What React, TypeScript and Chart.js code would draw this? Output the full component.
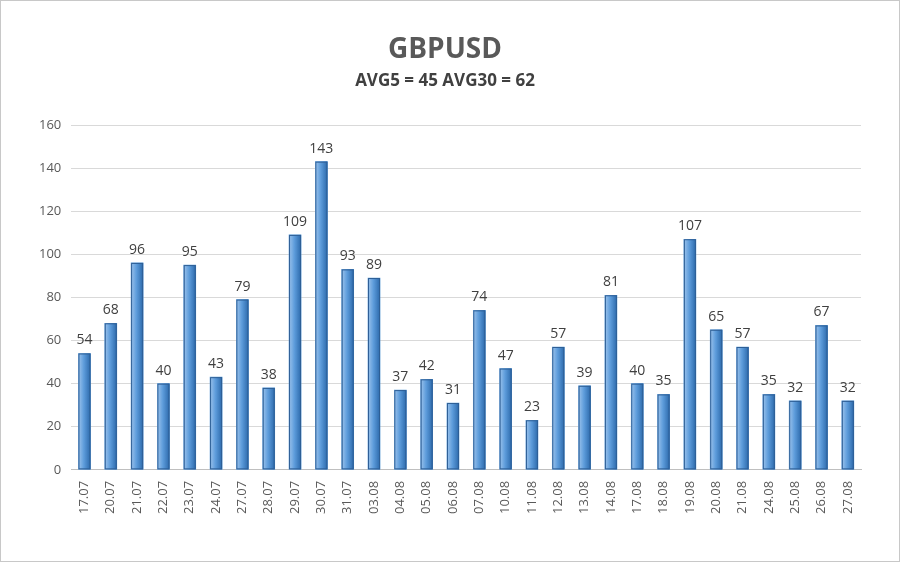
import React, { useEffect, useRef } from "react";
import { Chart, registerables } from "chart.js";
Chart.register(...registerables);

const categories = ["17.07","20.07","21.07","22.07","23.07","24.07","27.07","28.07","29.07","30.07","31.07","03.08","04.08","05.08","06.08","07.08","10.08","11.08","12.08","13.08","14.08","17.08","18.08","19.08","20.08","21.08","24.08","25.08","26.08","27.08"];
const values = [54,68,96,40,95,43,79,38,109,143,93,89,37,42,31,74,47,23,57,39,81,40,35,107,65,57,35,32,67,32];
const title = "GBPUSD";
const subtitle = "AVG5 = 45 AVG30 = 62";

const labelPlugin = {
  id: "labels",
  afterDatasetsDraw(chart: any) {
    const ctx = chart.ctx;
    const meta = chart.getDatasetMeta(0);
    ctx.save();
    meta.data.forEach((el: any) => {
      const w = 12;
      const x0 = el.x - w / 2;
      const top = el.y;
      const bottom = el.base;
      const g = ctx.createLinearGradient(x0, 0, x0 + w, 0);
      g.addColorStop(0, "#9cc3ec");
      g.addColorStop(0.45, "#5d9cdb");
      g.addColorStop(1, "#2c69ab");
      ctx.fillStyle = g;
      ctx.fillRect(x0, top, w, bottom - top);
      ctx.strokeStyle = "#2e5f96";
      ctx.lineWidth = 1;
      ctx.strokeRect(x0 + 0.5, top + 0.5, w - 1, bottom - top - 1);
    });
    ctx.fillStyle = "#404040";
    ctx.font = "14px 'Open Sans', sans-serif";
    ctx.textAlign = "center";
    ctx.textBaseline = "bottom";
    meta.data.forEach((el: any, i: number) => {
      ctx.fillText(String(values[i]), el.x, el.y - 6);
    });
    ctx.restore();
  },
};

export default function App() {
  const ref = useRef<HTMLCanvasElement>(null);
  useEffect(() => {
    const c = ref.current!;
    const chart = new Chart(c, {
      type: "bar",
      data: {
        labels: categories,
        datasets: [{
          data: values,
          backgroundColor: "#5a9ad8",
          borderWidth: 0,
          barThickness: 12,
        }],
      },
      options: {
        animation: false,
        responsive: false,
        layout: { padding: { left: 28, right: 38, top: 10, bottom: 44 } },
        plugins: {
          legend: { display: false },
          tooltip: { enabled: false },
          title: { display: true, text: title, color: "#595959", font: { size: 28, weight: "bold", family: "'Open Sans', sans-serif" }, padding: { top: 22, bottom: 4 } },
          subtitle: { display: true, text: subtitle, color: "#404040", font: { size: 17, weight: "bold", family: "'Open Sans', sans-serif" }, padding: { bottom: 34 } },
        },
        scales: {
          y: {
            min: 0, max: 160,
            ticks: { stepSize: 20, color: "#595959", font: { size: 13, family: "'Open Sans', sans-serif" }, padding: 10 },
            grid: { color: "#d9d9d9", drawTicks: false },
            border: { display: false },
          },
          x: {
            ticks: { color: "#595959", font: { size: 13, family: "'Open Sans', sans-serif" }, maxRotation: 90, minRotation: 90, autoSkip: false },
            grid: { display: false },
            border: { color: "#bfbfbf" },
          },
        },
      },
      plugins: [labelPlugin],
    } as any);
    return () => chart.destroy();
  }, []);
  return (
    <div style={{ position: "fixed", left: 0, top: 0, width: 900, height: 562, background: "#fff", boxSizing: "border-box", border: "1px solid #c8c8c8" }}>
      <canvas ref={ref} width={898} height={560} style={{ display: "block" }} />
    </div>
  );
}
